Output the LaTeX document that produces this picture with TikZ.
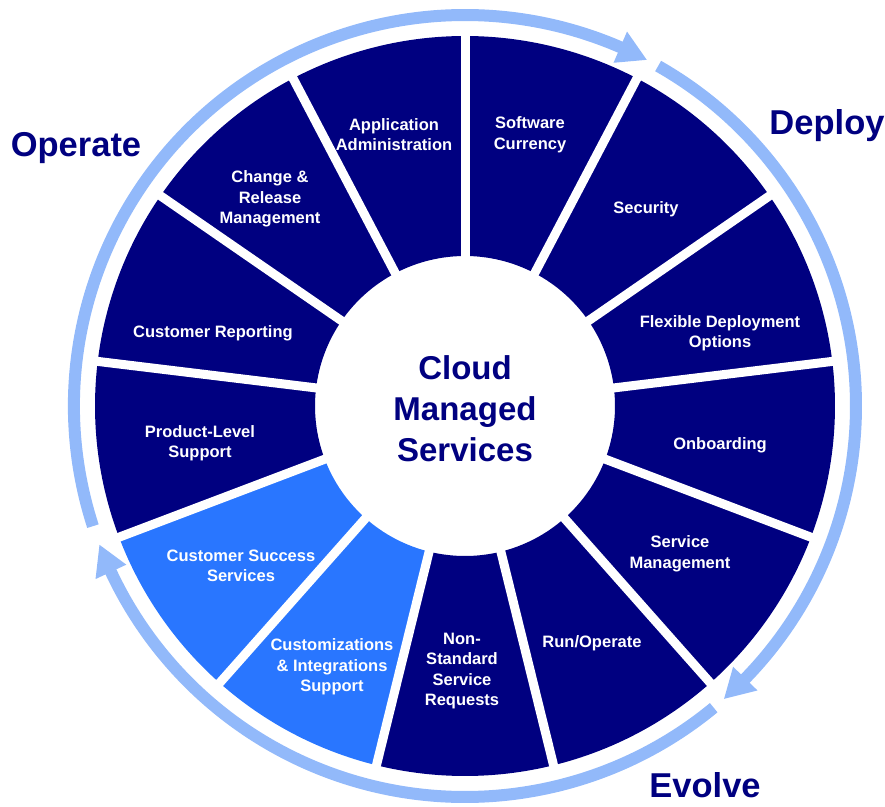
\documentclass[tikz,border=0pt]{standalone}
\usepackage{fontspec}
\setmainfont{Liberation Sans}
\definecolor{navyc}{HTML}{000080}
\definecolor{brightc}{HTML}{2976FF}
\definecolor{ringc}{HTML}{92B9FA}
\begin{document}
\begin{tikzpicture}[x=1pt,y=1pt,
  seglabel/.style={text=white, font=\fontsize{16.5}{20.5}\selectfont\bfseries, align=center, inner sep=0pt, yshift=-2pt},
  phase/.style={text=navyc, font=\fontsize{34.5}{40}\selectfont\bfseries, inner sep=0pt, anchor=base},
  gapline/.style={white, line width=9pt},
  ringarc/.style={ringc, line width=12pt},
  ringhead/.style={fill=ringc}]
\useasboundingbox (-465,-400) rectangle (420,406);
% sectors
\foreach \i/\c in {0/navyc,1/navyc,2/navyc,3/navyc,4/navyc,5/navyc,6/navyc,7/brightc,8/brightc,9/navyc,10/navyc,11/navyc,12/navyc}{
  \pgfmathsetmacro\a{90-27.6923*\i}
  \pgfmathsetmacro\b{\a-27.6923}
  \fill[\c] (\a:370pt) arc[start angle=\a, end angle=\b, radius=370pt] -- (\b:150pt) arc[start angle=\b, end angle=\a, radius=150pt] -- cycle;
}
% gaps
\foreach \i in {0,...,12}{
  \draw[gapline] ({90-27.6923*\i}:140pt) -- ({90-27.6923*\i}:380pt);
}
% ring arrows
\draw[ringarc] (197.9:391pt) arc[start angle=197.9, end angle=66, radius=391pt];
\path[ringhead] (62.3:391pt) -- (66.6:408pt) -- (66.6:374pt) -- cycle;
\draw[ringarc] (60.4:391pt) arc[start angle=60.4, end angle=-44.5, radius=391pt];
\path[ringhead] (-48.5:391pt) -- (-44.2:408pt) -- (-44.2:374pt) -- cycle;
\draw[ringarc] (-50.5:391pt) arc[start angle=-50.5, end angle=-155.2, radius=391pt];
\path[ringhead] (-159.2:391pt) -- (-154.9:408pt) -- (-154.9:374pt) -- cycle;
% center
\node[text=navyc, font=\fontsize{33}{41}\selectfont\bfseries, align=center, inner sep=0pt] (center) at (0,-3) {Cloud\\Managed\\Services};
% segment labels
\node[seglabel] (appadmin) at (-71,273.5) {Application\\Administration};
\node[seglabel] (softcur) at (65,273.5) {Software\\Currency};
\node[seglabel] (security) at (181,199) {Security};
\node[seglabel] (flexdep) at (255,75) {Flexible Deployment\\Options};
\node[seglabel] (onboard) at (255,-37) {Onboarding};
\node[seglabel] (servmgmt) at (215,-146) {Service\\Management};
\node[seglabel] (runop) at (127,-235) {Run/Operate};
\node[seglabel] (nonstd) at (-3,-263) {Non-\\Standard\\Service\\Requests};
\node[seglabel] (custint) at (-133,-259) {Customizations\\\& Integrations\\Support};
\node[seglabel] (custsucc) at (-224,-158) {Customer Success\\Services};
\node[seglabel] (prodlevel) at (-265,-35) {Product-Level\\Support};
\node[seglabel] (custrep) at (-252,75) {Customer Reporting};
\node[seglabel] (changerel) at (-195,209) {Change \&\\Release\\Management};
% phases
\node[phase] (operate) at (-389,249) {Operate};
\node[phase] (deploy) at (362,271) {Deploy};
\node[phase] (evolve) at (240,-391) {Evolve};
\end{tikzpicture}
\end{document}
